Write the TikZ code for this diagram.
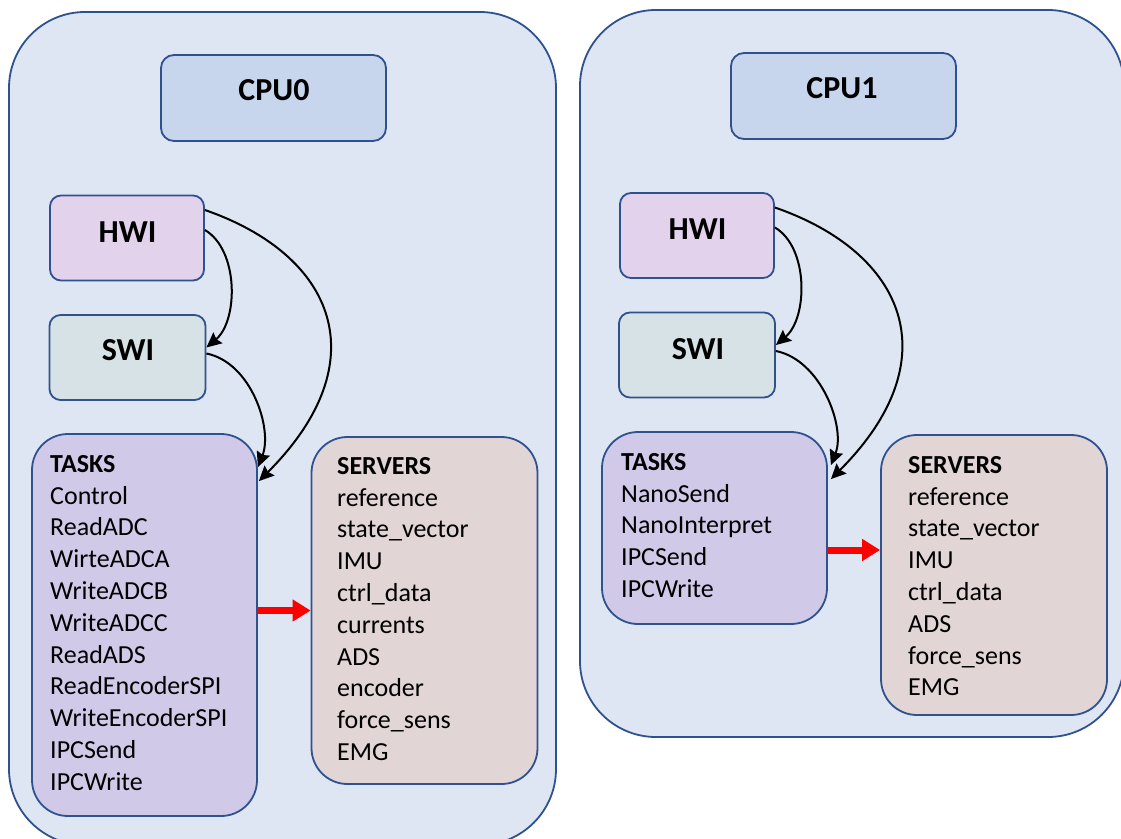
\documentclass[tikz,border=0pt]{standalone}
\usepackage{fontspec}
\setmainfont{Carlito}
\usetikzlibrary{arrows.meta,calc}
\definecolor{outerfill}{RGB}{222,230,244}
\definecolor{bordercol}{RGB}{47,82,143}
\definecolor{cpufill}{RGB}{199,213,237}
\definecolor{hwifill}{RGB}{226,210,236}
\definecolor{swifill}{RGB}{214,226,230}
\definecolor{taskfill}{RGB}{208,202,232}
\definecolor{servfill}{RGB}{225,213,214}
\definecolor{redarr}{RGB}{255,0,0}
\begin{document}
\begin{tikzpicture}[x=1pt,y=-1pt,
  box/.style={draw=bordercol, line width=1.8pt, rectangle, inner sep=0pt},
  outerbox/.style={box, fill=outerfill, rounded corners=76pt},
  cpubox/.style={box, fill=cpufill, rounded corners=13pt, minimum width=225pt, minimum height=86pt},
  hwibox/.style={box, fill=hwifill, rounded corners=11pt, minimum width=154pt, minimum height=85pt},
  swibox/.style={box, fill=swifill, rounded corners=11pt, minimum width=156pt, minimum height=85pt},
  taskbox/.style={box, fill=taskfill, rounded corners=36pt, minimum width=225pt},
  servbox/.style={box, fill=servfill, rounded corners=36pt, minimum width=226pt},
  title/.style={inner sep=0pt, font={\fontsize{32}{38}\selectfont\bfseries}},
  listtext/.style={inner sep=0pt, anchor=north west, align=left, font={\fontsize{26}{31.8}\selectfont}},
  flow/.style={line width=2pt, -{Stealth[length=15pt,width=14pt,inset=2pt]}},
  dataflow/.style={draw=redarr, line width=7pt, -{Triangle[length=18pt,width=21pt]}}
]
\useasboundingbox (0,0) rectangle (1121,838);
\fill[white] (0,0) rectangle (1121,838);
\clip (0,0) rectangle (1121,838);

% ---------------- CPU0 ----------------
\node[outerbox, minimum width=547pt, minimum height=833pt] (outer0) at (282.5,428.5) {};
\node[cpubox] (cpu0box) at (273.5,98) {};
\node[title] (cpu0) at (274,90) {CPU0};
\node[hwibox] (hwi0box) at (127,238) {};
\node[title] (hwi0) at (127.5,232) {HWI};
\node[swibox] (swi0box) at (127.5,357.5) {};
\node[title] (swi0) at (128,350) {SWI};
\node[taskbox, minimum height=382pt] (tasks0box) at (144.5,625) {};
\node[listtext] (tasks0) at (50,455) {\textbf{TASKS}\\Control\\ReadADC\\WirteADCA\\WriteADCB\\WriteADCC\\ReadADS\\ReadEncoderSPI\\WriteEncoderSPI\\IPCSend\\IPCWrite};
\node[servbox, minimum height=347pt] (serv0box) at (424.5,610.5) {};
\node[listtext] (serv0) at (337,457) {\textbf{SERVERS}\\reference\\state\_vector\\IMU\\ctrl\_data\\currents\\ADS\\encoder\\force\_sens\\EMG};

\draw[flow] ([yshift=8pt]hwi0box.east) .. controls +(34,20) and +(32,-27) .. ([yshift=10pt]swi0box.east);
\draw[flow] ([yshift=28pt]hwi0box.east) .. controls +(130,45) and +(120,-120) .. ([xshift=1pt,yshift=-48pt]tasks0box.north east);
\draw[flow] ([yshift=4pt]swi0box.east) .. controls +(45,9) and +(15,-38) .. ([yshift=-34pt]tasks0box.north east);
\coordinate (r0) at (tasks0box.east |- serv0box.west);
\draw[dataflow] (r0) -- (serv0box.west);

% ---------------- CPU1 ----------------
\node[outerbox, minimum width=544pt, minimum height=727pt] (outer1) at (852,373.5) {};
\node[cpubox] (cpu1box) at (843.5,96) {};
\node[title] (cpu1) at (842,88) {CPU1};
\node[hwibox] (hwi1box) at (697,235.5) {};
\node[title] (hwi1) at (697.5,229) {HWI};
\node[swibox] (swi1box) at (697,355) {};
\node[title] (swi1) at (698,349) {SWI};
\node[taskbox, minimum height=192pt] (tasks1box) at (714.5,528) {};
\node[listtext] (tasks1) at (621,453) {\textbf{TASKS}\\NanoSend\\NanoInterpret\\IPCSend\\IPCWrite};
\node[servbox, minimum height=280pt] (serv1box) at (994,575) {};
\node[listtext] (serv1) at (908,456) {\textbf{SERVERS}\\reference\\state\_vector\\IMU\\ctrl\_data\\ADS\\force\_sens\\EMG};

\draw[flow] ([yshift=8pt]hwi1box.east) .. controls +(34,20) and +(32,-27) .. ([yshift=10pt]swi1box.east);
\draw[flow] ([yshift=28pt]hwi1box.east) .. controls +(130,45) and +(120,-120) .. ([xshift=3pt,yshift=-48pt]tasks1box.north east);
\draw[flow] ([yshift=4pt]swi1box.east) .. controls +(45,9) and +(15,-38) .. ([xshift=3pt,yshift=-34pt]tasks1box.north east);
\coordinate (r1) at ([yshift=-22pt]tasks1box.east);
\draw[dataflow] (r1) -- (r1 -| serv1box.west);
\end{tikzpicture}
\end{document}
